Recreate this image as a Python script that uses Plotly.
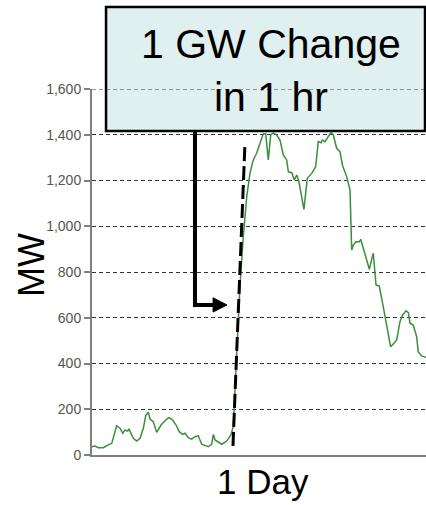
import plotly.graph_objects as go

# hourly profile over one day (hours, MW)
hours = [0.0, 0.22, 0.45, 0.81, 1.17, 1.42, 1.77, 2.01, 2.21, 2.37, 2.57, 2.66, 2.80, 2.97, 3.21,
         3.45, 3.69, 3.86, 4.05, 4.17, 4.40, 4.65, 4.96, 5.25, 5.37, 5.55, 5.80, 6.04, 6.27, 6.52,
         6.68, 6.92, 7.16, 7.40, 7.64, 7.88, 8.12, 8.36, 8.60, 8.72, 8.84, 9.08, 9.32, 9.68, 9.97,
         10.15, 10.28, 10.44, 10.63, 10.87, 11.12, 11.35, 11.59, 11.83, 12.07, 12.31, 12.48, 12.67,
         12.84, 13.03, 13.27, 13.51, 13.75, 13.99, 14.11, 14.35, 14.54, 14.71, 14.87, 15.07, 15.23,
         15.47, 15.79, 16.07, 16.26, 16.46, 16.55, 16.74, 16.98, 17.17, 17.34, 17.58, 17.82, 17.99,
         18.30, 18.54, 18.66, 18.77, 18.97, 19.21, 19.31, 19.49, 19.74, 19.93, 20.14, 20.21, 20.41,
         20.64, 20.93, 21.18, 21.46, 21.70, 21.89, 22.13, 22.32, 22.56, 22.73, 22.85, 23.08, 23.33,
         23.44, 23.69, 24.0]
mw = [36, 39, 32, 32, 44, 51, 128, 117, 95, 109, 105, 114, 95, 73, 61,
      73, 117, 172, 187, 157, 146, 99, 131, 153, 157, 163, 153, 131, 102, 90,
      95, 76, 69, 80, 84, 47, 41, 36, 47, 90, 66, 58, 47, 61, 87,
      124, 299, 517, 736, 954, 1129, 1231, 1290, 1319, 1363, 1404, 1404, 1290,
      1399, 1408, 1399, 1377, 1311, 1290, 1238, 1234, 1202, 1224, 1195, 1129, 1074,
      1210, 1231, 1260, 1370, 1365, 1377, 1370, 1391, 1410, 1399, 1341, 1326, 1268,
      1217, 1158, 896, 918, 932, 932, 943, 904, 860, 812, 867, 882, 743,
      739, 648, 561, 473, 488, 503, 583, 612, 630, 622, 576, 568, 517,
      452, 433, 427]

# 1 GW / 1 hr ramp reference line
ramp_hours = [10.13, 10.99]
ramp_mw = [40, 1360]

y_ticks = [0, 200, 400, 600, 800, 1000, 1200, 1400, 1600]

fig = go.Figure()
fig.add_trace(go.Scatter(x=hours, y=mw, mode="lines",
                         line=dict(color="#3a8f3a", width=1.5), showlegend=False))
fig.add_trace(go.Scatter(x=ramp_hours, y=ramp_mw, mode="lines",
                         line=dict(color="black", width=3, dash="14px,5px"), showlegend=False))

# callout box
fig.add_shape(type="rect", xref="paper", yref="paper", x0=0.042, x1=0.997, y0=0.885, y1=1.224,
              fillcolor="#e0f0f0", line=dict(color="black", width=2.5), layer="below")
fig.add_shape(type="line", xref="paper", yref="y", x0=0, x1=1, y0=1600, y1=1600,
              line=dict(color="#333333", width=1, dash="4px,3px"))
fig.add_annotation(text="1 GW Change<br>in 1 hr", xref="paper", yref="paper", x=0.537, y=1.05,
                   xanchor="center", yanchor="middle",
                   showarrow=False, font=dict(size=41, color="black", family="Arial"))

# elbow arrow
fig.add_shape(type="path", path="M 7.4,1416 L 7.4,656 L 8.8,656",
              line=dict(color="black", width=4))
fig.add_shape(type="path", path="M 8.7,625 L 9.7,656 L 8.7,687 Z",
              fillcolor="black", line=dict(color="black", width=1))

fig.add_annotation(text="MW", xref="paper", yref="paper", x=-0.183, y=0.519, textangle=-90,
                   xanchor="center", yanchor="middle",
                   showarrow=False, font=dict(size=36, color="black", family="Arial"))
fig.add_annotation(text="1 Day", xref="paper", yref="paper", x=0.512, y=-0.072,
                   xanchor="center", yanchor="middle",
                   showarrow=False, font=dict(size=35, color="black", family="Arial"))

fig.update_layout(
    width=426, height=505,
    margin=dict(l=92, r=0, t=89, b=50, autoexpand=False),
    paper_bgcolor="white", plot_bgcolor="rgba(0,0,0,0)",
    font=dict(family="Arial"),
    xaxis=dict(range=[0, 24], showline=True, linecolor="#7f7f7f", linewidth=2,
               showgrid=False, zeroline=False, showticklabels=False, ticks=""),
    yaxis=dict(range=[0, 1600], tickvals=y_ticks, tickformat=",", showline=True,
               linecolor="#7f7f7f", linewidth=2, ticks="outside", ticklen=6, tickwidth=2,
               tickcolor="#7f7f7f", tickfont=dict(size=14, color="#555555"),
               showgrid=True, gridcolor="#333333", gridwidth=1, griddash="4px,3px",
               zeroline=False),
)

fig.write_html("out.html", config={"displayModeBar": False},
               post_script="document.body.style.margin='0';document.body.style.overflow='hidden';")
